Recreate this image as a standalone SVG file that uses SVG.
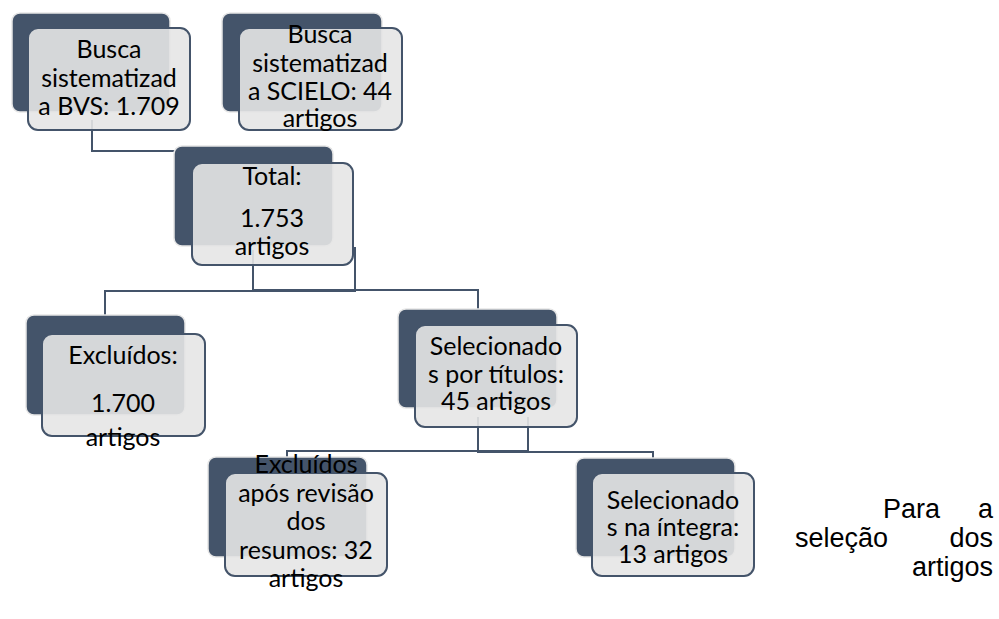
<svg xmlns="http://www.w3.org/2000/svg" width="999" height="619" viewBox="0 0 999 619">
<style>
.dk{fill:#44546a;stroke:#e6e6e6;stroke-width:1.5}
.lt{fill:#e5e5e5;fill-opacity:0.9;stroke:#44546a;stroke-width:2}
.t{font-family:Lato,"Open Sans","Liberation Sans",sans-serif;font-size:25px;fill:#000;text-anchor:middle}
.c{fill:none;stroke:#44546a;stroke-width:2}
.p{font-family:"Liberation Sans",Arial,sans-serif;font-size:27px;fill:#000}
</style>
<rect width="999" height="619" fill="#fff"/>
<g id="connectors">
<path class="c" d="M92,120 V151 H175"/>
<path class="c" d="M355,247 V291 H105 V316"/>
<path class="c" d="M253,250 V290 H478 V309"/>
<path class="c" d="M528,417 V451 H287 V457"/>
<path class="c" d="M478,417 V452 H653 V458"/>
</g>
<g id="n1">
<rect class="dk" x="12" y="13" width="158" height="99" rx="8"/>
<rect class="lt" x="28" y="28" width="162" height="102" rx="10"/>
<text class="t" x="109" y="58">Busca</text>
<text class="t" x="109" y="87">sistematizad</text>
<text class="t" x="109" y="115">a BVS: 1.709</text>
</g>
<g id="n2">
<rect class="dk" x="222" y="13" width="160" height="99" rx="8"/>
<rect class="lt" x="239" y="28" width="163" height="102" rx="10"/>
<text class="t" x="320" y="43">Busca</text>
<text class="t" x="320" y="72">sistematizad</text>
<text class="t" x="320" y="100">a SCIELO: 44</text>
<text class="t" x="320" y="127">artigos</text>
</g>
<g id="n3">
<rect class="dk" x="174" y="146" width="159" height="100" rx="8"/>
<rect class="lt" x="192" y="163" width="161" height="102" rx="10"/>
<text class="t" x="272" y="185">Total:</text>
<text class="t" x="272" y="227">1.753</text>
<text class="t" x="272" y="255">artigos</text>
</g>
<g id="n4">
<rect class="dk" x="26" y="315" width="159" height="100" rx="8"/>
<rect class="lt" x="42" y="334" width="163" height="102" rx="10"/>
<text class="t" x="123" y="364">Excluídos:</text>
<text class="t" x="123" y="412">1.700</text>
<text class="t" x="123" y="446">artigos</text>
</g>
<g id="n5">
<rect class="dk" x="398" y="309" width="159" height="99" rx="8"/>
<rect class="lt" x="415" y="325" width="162" height="102" rx="10"/>
<text class="t" x="496" y="355">Selecionado</text>
<text class="t" x="496" y="383">s por títulos:</text>
<text class="t" x="496" y="410">45 artigos</text>
</g>
<g id="n6">
<rect class="dk" x="208" y="457" width="159" height="100" rx="8"/>
<rect class="lt" x="225" y="473" width="162" height="103" rx="10"/>
<text class="t" x="306" y="473">Excluídos</text>
<text class="t" x="306" y="502">após revisão</text>
<text class="t" x="306" y="530">dos</text>
<text class="t" x="306" y="559">resumos: 32</text>
<text class="t" x="306" y="587">artigos</text>
</g>
<g id="n7">
<rect class="dk" x="576" y="458" width="159" height="99" rx="8"/>
<rect class="lt" x="592" y="473" width="162" height="103" rx="10"/>
<text class="t" x="673" y="509">Selecionado</text>
<text class="t" x="673" y="536">s na íntegra:</text>
<text class="t" x="673" y="563">13 artigos</text>
</g>
<g id="caption">
<text class="p" x="883" y="518">Para</text>
<text class="p" x="993" y="518" text-anchor="end">a</text>
<text class="p" x="795" y="547">seleção</text>
<text class="p" x="993" y="547" text-anchor="end">dos</text>
<text class="p" x="993" y="576" text-anchor="end">artigos</text>
</g>
</svg>
